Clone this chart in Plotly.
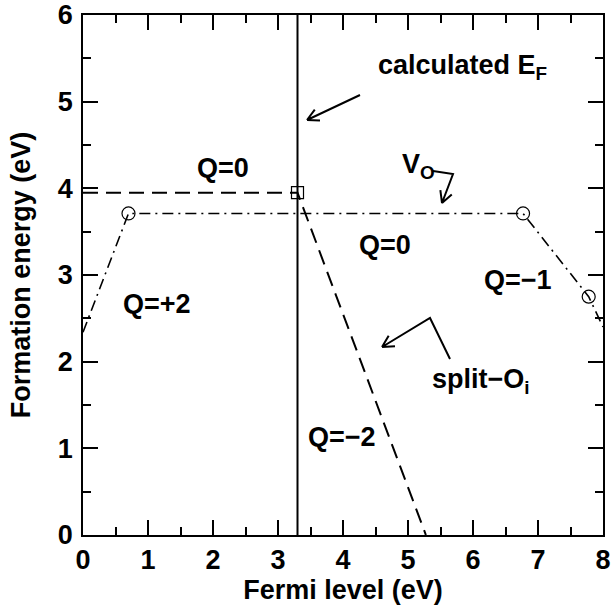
import math
import plotly.graph_objects as go

# ---- data ----
ef_calc = 3.30
ef_line_y = [0.0, 6.0]

split_x = [0.0, 3.30, 5.275]
split_y = [3.95, 3.95, 0.0]
split_kink_x = [3.30]
split_kink_y = [3.95]

vo_x = [0.0, 0.70, 6.77, 7.78, 8.0]
vo_y = [2.34, 3.71, 3.71, 2.75, 2.40]
vo_kink_x = [0.70, 6.77, 7.78]
vo_kink_y = [3.71, 3.71, 2.75]

x_ticks = [0, 1, 2, 3, 4, 5, 6, 7, 8]
y_ticks = [0, 1, 2, 3, 4, 5, 6]

# ---- geometry ----
W, H = 611, 608
PL, PT, PR, PB = 83, 15, 603, 535          # plot box in page pixels
ML, MT = PL, PT
PW, PH = PR - PL, PB - PT
MR, MB = W - ML - PW, H - MT - PH
XR, YR = (0, 8), (0, 6)

def px2d(px, py):
    return (XR[0] + (px - PL) / PW * (XR[1] - XR[0]),
            YR[0] + (PB - py) / PH * (YR[1] - YR[0]))

FONT = "Liberation Sans, Arial, Helvetica, sans-serif"

fig = go.Figure()
fig.add_trace(go.Scatter(x=[ef_calc, ef_calc], y=ef_line_y, mode="lines",
                         line=dict(color="black", width=2), showlegend=False))
fig.add_trace(go.Scatter(x=split_x, y=split_y, mode="lines",
                         line=dict(color="black", width=2, dash="15px,8px"),
                         showlegend=False))
fig.add_trace(go.Scatter(x=split_kink_x, y=split_kink_y, mode="markers",
                         marker=dict(symbol="square-open", size=12, color="black",
                                     line=dict(width=1.2)), showlegend=False))
fig.add_trace(go.Scatter(x=vo_x, y=vo_y, mode="lines",
                         line=dict(color="black", width=1.6, dash="11px,5px,2px,5px"),
                         showlegend=False))
fig.add_trace(go.Scatter(x=vo_kink_x, y=vo_kink_y, mode="markers",
                         marker=dict(symbol="circle-open", size=13, color="black",
                                     line=dict(width=1.2)), showlegend=False))

# ---- arrows with open-V heads ----
def arrow(points_px, head=13, ang=28):
    pts = [px2d(*p) for p in points_px]
    path = "M " + " L ".join(f"{x},{y}" for x, y in pts)
    (x0, y0), (x1, y1) = points_px[-2], points_px[-1]
    a = math.atan2(y0 - y1, x0 - x1)
    ex, ey = px2d(x1, y1)
    for s in (-1, 1):
        hx = x1 + head * math.cos(a + s * math.radians(ang))
        hy = y1 + head * math.sin(a + s * math.radians(ang))
        dx, dy = px2d(hx, hy)
        path += f" M {ex},{ey} L {dx},{dy}"
    fig.add_shape(type="path", path=path, xref="x", yref="y",
                  line=dict(color="black", width=2))

arrow([(360, 95), (307, 120)])
arrow([(433, 171), (453, 174), (442, 203)])
arrow([(450, 359), (430, 318), (382, 347)])

def label(px, py, text, size=27):
    x, y = px2d(px, py)
    fig.add_annotation(x=x, y=y, xref="x", yref="y", text=text, showarrow=False,
                       font=dict(family=FONT, size=size, color="black", weight="bold"))

label(462, 67, "calculated E<sub>F</sub>")
label(223, 168, "Q=0")
label(418, 166, "V<sub>O</sub>")
label(385, 245, "Q=0")
label(518, 280, "Q=\u22121")
label(157, 304, "Q=+2")
label(481, 381, "split\u2212O<sub>i</sub>")
label(342, 437, "Q=\u22122")

axis_common = dict(
    showgrid=False, zeroline=False, showline=True, linecolor="black", linewidth=1.5,
    mirror="ticks", ticks="inside", ticklen=15, tickwidth=1.5, tickcolor="black",
    automargin=False, ticklabeloverflow="allow",
    tickfont=dict(family=FONT, size=27, color="black", weight="bold"),
    title_font=dict(family=FONT, size=27, color="black", weight="bold"),
)

fig.update_layout(
    width=W, height=H,
    margin=dict(l=ML, r=MR, t=MT, b=MB, pad=0),
    paper_bgcolor="white", plot_bgcolor="white",
    xaxis=dict(range=list(XR), tickvals=x_ticks, ticktext=[str(v) for v in x_ticks],
               title=dict(text="Fermi level (eV)", standoff=4),
               minor=dict(dtick=0.5, ticklen=8, tickwidth=1.5, ticks="inside",
                          tickcolor="black"),
               ticklabelstandoff=0, **axis_common),
    yaxis=dict(range=list(YR), tickvals=y_ticks, ticktext=[str(v) for v in y_ticks],
               title=dict(text="Formation energy (eV)", standoff=19),
               minor=dict(dtick=0.5, ticklen=8, tickwidth=1.5, ticks="inside",
                          tickcolor="black"),
               ticklabelstandoff=3, **axis_common),
)

fig.write_html("out.html",
               config={"displayModeBar": False},
               post_script="document.body.style.margin='0';document.body.style.overflow='hidden';")
